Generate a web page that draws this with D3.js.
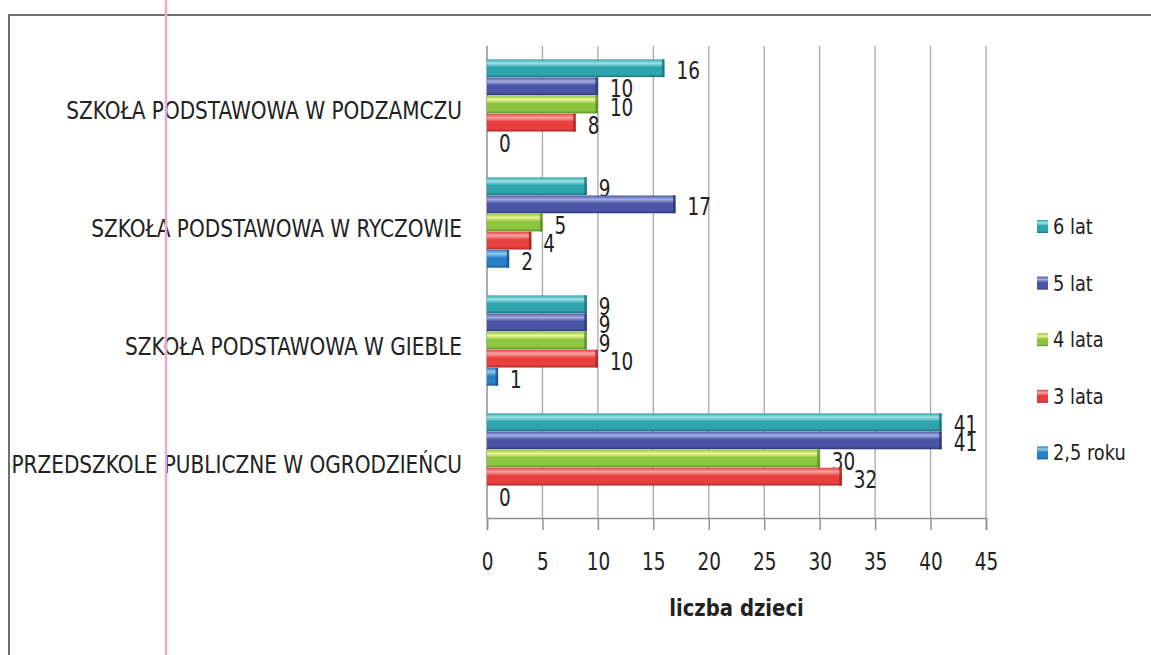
<!DOCTYPE html>
<html>
<head>
<meta charset="utf-8">
<script src="https://cdn.jsdelivr.net/npm/d3@7"></script>
<style>
  html, body { margin: 0; padding: 0; background: #fff; }
  svg { display: block; }
  text { font-family: "DejaVu Sans Condensed", "DejaVu Sans", sans-serif; fill: #222; }
</style>
</head>
<body>
<svg id="chart" width="1151" height="655"></svg>
<script>
const categories = [
  "SZKOŁA PODSTAWOWA W PODZAMCZU",
  "SZKOŁA PODSTAWOWA W RYCZOWIE",
  "SZKOŁA PODSTAWOWA W GIEBLE",
  "PRZEDSZKOLE PUBLICZNE W OGRODZIEŃCU"
];
const seriesNames = ["6 lat", "5 lat", "4 lata", "3 lata", "2,5 roku"];
const values6 = [16, 9, 9, 41];
const values5 = [10, 17, 9, 41];
const values4 = [10, 5, 9, 30];
const values3 = [8, 4, 10, 32];
const values25 = [0, 2, 1, 0];
const xTicks = [0, 5, 10, 15, 20, 25, 30, 35, 40, 45];
const xTitle = "liczba dzieci";

const seriesValues = [values6, values5, values4, values3, values25];
const colors = {
  "6 lat":   { base: "#2ea4ad", light: "#9fe3e6", dark: "#1c7379" },
  "5 lat":   { base: "#4b55a6", light: "#a3aee0", dark: "#2f3676" },
  "4 lata":  { base: "#8cc63e", light: "#eef59a", dark: "#5d8c22" },
  "3 lata":  { base: "#e8403f", light: "#f9a3a3", dark: "#a82423" },
  "2,5 roku":{ base: "#2a80c8", light: "#94cbf1", dark: "#1a5590" }
};

const svg = d3.select("#chart");

// frame
svg.append("line").attr("x1", 9).attr("x2", 1151).attr("y1", 15).attr("y2", 15)
  .attr("stroke", "#6b6f72").attr("stroke-width", 2);
svg.append("line").attr("x1", 9).attr("x2", 9).attr("y1", 14).attr("y2", 655)
  .attr("stroke", "#6b6f72").attr("stroke-width", 2);

const x = d3.scaleLinear().domain([0, 45]).range([487, 986]);
const y0 = d3.scaleBand().domain(categories).range([46, 518]).padding(0);
const y1 = d3.scaleBand().domain(seriesNames).range([13, 104]).padding(0.02);

// gradients
const defs = svg.append("defs");
seriesNames.forEach((s, i) => {
  const c = colors[s];
  const g = defs.append("linearGradient").attr("id", "g" + i)
    .attr("x1", 0).attr("x2", 0).attr("y1", 0).attr("y2", 1);
  g.append("stop").attr("offset", "0%").attr("stop-color", c.base);
  g.append("stop").attr("offset", "22%").attr("stop-color", c.light);
  g.append("stop").attr("offset", "45%").attr("stop-color", c.base);
  g.append("stop").attr("offset", "85%").attr("stop-color", c.base);
  g.append("stop").attr("offset", "100%").attr("stop-color", c.dark);
});

// gridlines
const grid = svg.append("g");
grid.selectAll("line").data(xTicks.slice(1)).join("line")
  .attr("x1", d => x(d)).attr("x2", d => x(d))
  .attr("y1", 46).attr("y2", 518)
  .attr("stroke", "#a6a9ac").attr("stroke-width", 1.3);

// y axis line
svg.append("line").attr("x1", x(0)).attr("x2", x(0)).attr("y1", 46).attr("y2", 518)
  .attr("stroke", "#8e9194").attr("stroke-width", 1.5);

// x axis
const xAxis = d3.axisBottom(x).tickValues(xTicks).tickSize(12).tickPadding(22);
const ax = svg.append("g").attr("transform", "translate(0,518)").call(xAxis);
ax.select(".domain").attr("stroke", "#8e9194").attr("stroke-width", 1.5);
ax.selectAll(".tick line").attr("stroke", "#8e9194").attr("stroke-width", 1.5);
ax.selectAll(".tick text").attr("font-size", 25).attr("fill", "#222")
  .attr("font-family", "'DejaVu Sans Condensed', sans-serif")
  .attr("transform", "scale(0.82,1)");

// x title
svg.append("text")
  .attr("transform", `translate(${x(22.5)},616) scale(0.95,1)`)
  .attr("text-anchor", "middle").attr("font-size", 23).attr("font-weight", "bold")
  .text(xTitle);

// category labels
svg.append("g").selectAll("text").data(categories).join("text")
  .attr("transform", d => `translate(462,${y0(d) + y0.bandwidth() / 2 + 14}) scale(0.93,1)`)
  .attr("text-anchor", "end")
  .attr("font-size", 24)
  .text(d => d);

// bars
const groups = svg.append("g").selectAll("g").data(categories).join("g")
  .attr("transform", d => `translate(0,${y0(d)})`);

groups.each(function(cat, ci) {
  const g = d3.select(this);
  seriesNames.forEach((s, si) => {
    const v = seriesValues[si][ci];
    const yy = y1(s);
    const h = y1.bandwidth();
    if (v > 0) {
      g.append("rect")
        .attr("x", x(0)).attr("y", yy)
        .attr("width", x(v) - x(0)).attr("height", h)
        .attr("fill", `url(#g${si})`);
      g.append("rect")
        .attr("x", x(v) - 2.5).attr("y", yy)
        .attr("width", 2.5).attr("height", h)
        .attr("fill", colors[s].dark).attr("opacity", 0.85);
    }
    g.append("text")
      .attr("transform", `translate(${x(v) + 12},${yy + h / 2 + 11}) scale(0.82,1)`)
      .attr("font-size", 25)
      .text(v);
  });
});

// legend
const leg = svg.append("g").selectAll("g").data(seriesNames).join("g")
  .attr("transform", (d, i) => `translate(1037,${226 + i * 56.6})`);
leg.append("rect").attr("x", 0).attr("y", -6).attr("width", 11).attr("height", 13)
  .attr("fill", (d, i) => `url(#g${i})`);
leg.append("text").attr("transform", "translate(16,8) scale(0.9,1)")
  .attr("font-size", 22).text(d => d);

// pink margin line
svg.append("line").attr("x1", 166).attr("x2", 166).attr("y1", 0).attr("y2", 655)
  .attr("stroke", "#f0a6d0").attr("stroke-width", 2.5);
</script>
</body>
</html>
